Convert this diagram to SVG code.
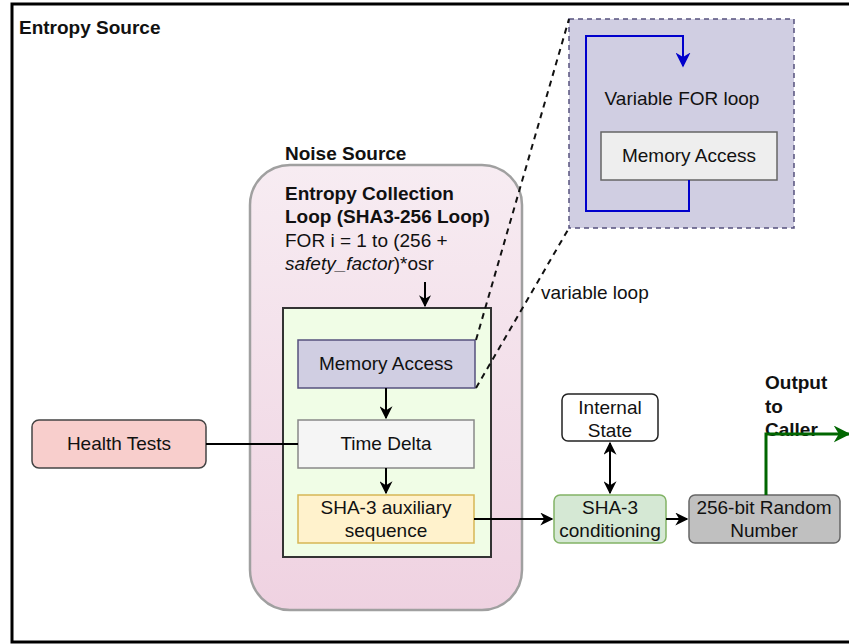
<svg xmlns="http://www.w3.org/2000/svg" width="849" height="644" viewBox="0 0 849 644">
<style>
text{font-family:"Liberation Sans",Arial,sans-serif;font-size:19px;fill:#111}
.b{font-weight:bold}
.c{text-anchor:middle}
.conn{fill:none;stroke:#000;stroke-width:2}
.dash{fill:none;stroke:#111;stroke-width:2;stroke-dasharray:6 5}
</style>
<defs>
<linearGradient id="pink" x1="0" y1="0" x2="0" y2="1">
<stop offset="0" stop-color="#f7ecf2"/>
<stop offset="1" stop-color="#efd2e1"/>
</linearGradient>
<marker id="ah" viewBox="0 0 10 10" refX="9" refY="5" markerWidth="12" markerHeight="12" orient="auto-start-reverse" markerUnits="userSpaceOnUse">
<path d="M0,0 L10,5 L0,10 L3,5 z" fill="#000"/>
</marker>
<marker id="ahs" viewBox="0 0 10 10" refX="9" refY="5" markerWidth="13" markerHeight="13" orient="auto-start-reverse" markerUnits="userSpaceOnUse">
<path d="M0,0 L10,5 L0,10 L3,5 z" fill="#000"/>
</marker>
<marker id="ahb" viewBox="0 0 10 10" refX="9" refY="5" markerWidth="15" markerHeight="15" orient="auto" markerUnits="userSpaceOnUse">
<path d="M0,0 L10,5 L0,10 L3,5 z" fill="#0000cc"/>
</marker>
<marker id="ahg" viewBox="0 0 10 10" refX="9" refY="5" markerWidth="17" markerHeight="17" orient="auto" markerUnits="userSpaceOnUse">
<path d="M0,0 L10,5 L0,10 L3,5 z" fill="#006600"/>
</marker>
</defs>

<g id="entropy-source">
<rect x="12" y="4" width="860" height="638" fill="#fff" stroke="#000" stroke-width="3"/>
<text class="b" x="19" y="34">Entropy Source</text>
</g>

<g id="noise-source">
<rect x="250" y="165" width="272" height="445" rx="40" fill="url(#pink)" stroke="#a0a0a0" stroke-width="2.5"/>
<text class="b" x="285" y="160">Noise Source</text>
<text class="b" x="285" y="200">Entropy Collection</text>
<text class="b" x="285" y="223">Loop (SHA3-256 Loop)</text>
<text x="285" y="247">FOR i = 1 to (256 +</text>
<text x="285" y="270"><tspan font-style="italic">safety_factor</tspan>)*osr</text>
</g>

<g id="collection-loop">
<rect x="283" y="308" width="208" height="249" fill="#f0fde6" stroke="#333" stroke-width="2"/>
</g>

<g id="loop-detail">
<rect x="569" y="19" width="225" height="209" fill="#d0cee2" stroke="#56517e" stroke-width="1.5" stroke-dasharray="5 4"/>
<text class="c" x="682" y="105">Variable FOR loop</text>
</g>

<g id="memory-access-inner">
<rect x="601" y="132" width="176" height="48" fill="#eeeeee" stroke="#666" stroke-width="1.5"/>
<text class="c" x="689" y="162">Memory Access</text>
</g>

<g id="memory-access">
<rect x="298" y="340" width="177" height="48" fill="#d0cee2" stroke="#56517e" stroke-width="1.5"/>
<text class="c" x="386" y="370">Memory Access</text>
</g>

<g id="time-delta">
<rect x="298" y="420" width="176" height="48" fill="#f5f5f5" stroke="#888" stroke-width="1.5"/>
<text class="c" x="386" y="450">Time Delta</text>
</g>

<g id="sha3-aux">
<rect x="298" y="495" width="176" height="48" fill="#fff2cc" stroke="#d6b656" stroke-width="1.5"/>
<text class="c" x="386" y="514">SHA-3 auxiliary</text>
<text class="c" x="386" y="537">sequence</text>
</g>

<g id="health-tests">
<rect x="32" y="420" width="174" height="48" rx="7" fill="#f8cecc" stroke="#444" stroke-width="1.5"/>
<text class="c" x="119" y="450">Health Tests</text>
</g>

<g id="sha3-conditioning">
<rect x="554" y="495" width="112" height="48" rx="6" fill="#d5e8d4" stroke="#82b366" stroke-width="1.5"/>
<text class="c" x="610" y="514">SHA-3</text>
<text class="c" x="610" y="537">conditioning</text>
</g>

<g id="internal-state">
<rect x="562" y="394" width="96" height="47" rx="6" fill="#fff" stroke="#222" stroke-width="1.5"/>
<text class="c" x="610" y="414">Internal</text>
<text class="c" x="610" y="437">State</text>
</g>

<g id="random-number">
<rect x="689" y="495" width="151" height="48" rx="6" fill="#c0c0c0" stroke="#666" stroke-width="1.5"/>
<text class="c" x="764" y="514">256-bit Random</text>
<text class="c" x="764" y="537">Number</text>
</g>

<g id="output-label">
<text class="b" x="765" y="389">Output</text>
<text class="b" x="765" y="413">to</text>
<text class="b" x="765" y="436">Caller</text>
</g>

<g id="variable-loop-label">
<text x="541" y="299">variable loop</text>
</g>

<g id="connectors">
<path class="conn" d="M425,282 V306" marker-end="url(#ah)"/>
<path class="conn" d="M386,388 V418" marker-end="url(#ahs)"/>
<path class="conn" d="M386,468 V493" marker-end="url(#ahs)"/>
<path class="conn" d="M206,444 H298" stroke-width="2.5"/>
<path class="conn" d="M474,519 H552" stroke-width="1.5" marker-end="url(#ahs)"/>
<path class="conn" d="M610,443 V493" marker-start="url(#ahs)" marker-end="url(#ahs)"/>
<path class="conn" d="M666,519 H687" stroke-width="1.5" marker-end="url(#ahs)"/>
<path d="M766,495 V434 H849" fill="none" stroke="#006600" stroke-width="3" marker-end="url(#ahg)"/>
<path d="M689,180 V211 H586 V36 H683 V66" fill="none" stroke="#0000cc" stroke-width="2" marker-end="url(#ahb)"/>
<path class="dash" d="M476,340 L569,19" stroke-width="1.5"/>
<path class="dash" d="M476,388 L569,228" stroke-width="1.5"/>
</g>
</svg>
